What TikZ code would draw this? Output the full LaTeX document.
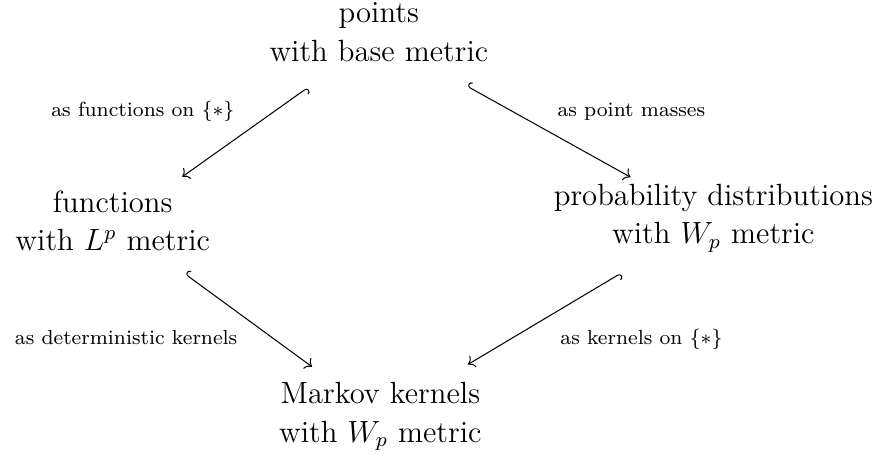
\documentclass[tikz,border=0pt]{standalone}
\usepackage{amssymb}
\usepackage{tikz}
\usetikzlibrary{arrows.meta,positioning,calc}

\begin{document}
\begin{tikzpicture}[every node/.style={align=center},
    obj/.style={inner sep=0pt, font=\fontsize{12}{15}\selectfont},
    lbl/.style={inner sep=0pt, font=\fontsize{8}{9.5}\selectfont},
    hookto/.style={{Hooks[right]}-To}]
    \useasboundingbox (0,0) rectangle (12.17,-6.27);

    \node[obj] (pts) at (5.21,-0.44) {points\\with base metric};
    \node[obj] (fun) at (1.55,-3.04) {functions\\with $L^p$ metric};
    \node[obj] (prob) at (9.81,-3.00) {probability distributions\\with $W_p$ metric};
    \node[obj] (kern) at (5.23,-5.73) {Markov kernels\\with $W_p$ metric};

    \node[lbl, anchor=base east] (asfun) at (3.23,-1.60) {as functions on $\{*\}$};
    \node[lbl, anchor=base west] (asmass) at (7.66,-1.60) {as point masses};
    \node[lbl, anchor=base east] (asdet) at (3.27,-4.74) {as deterministic kernels};
    \node[lbl, anchor=base west] (askern) at (7.70,-4.74) {as kernels on $\{*\}$};

    \draw[hookto, shorten <=34.3pt, shorten >=33.4pt] ([yshift=-2pt]pts.center) -- ([yshift=-2pt]fun.center);
    \draw[hookto, shorten <=39.6pt, shorten >=37.1pt] ([yshift=-2pt]pts.center) -- ([yshift=-2pt]prob.center);
    \draw[hookto, shorten <=35.2pt, shorten >=33.1pt] (fun.center) -- (kern.center);
    \draw[hookto, shorten <=42.3pt, shorten >=39.9pt] (prob.center) -- (kern.center);
\end{tikzpicture}
\end{document}
